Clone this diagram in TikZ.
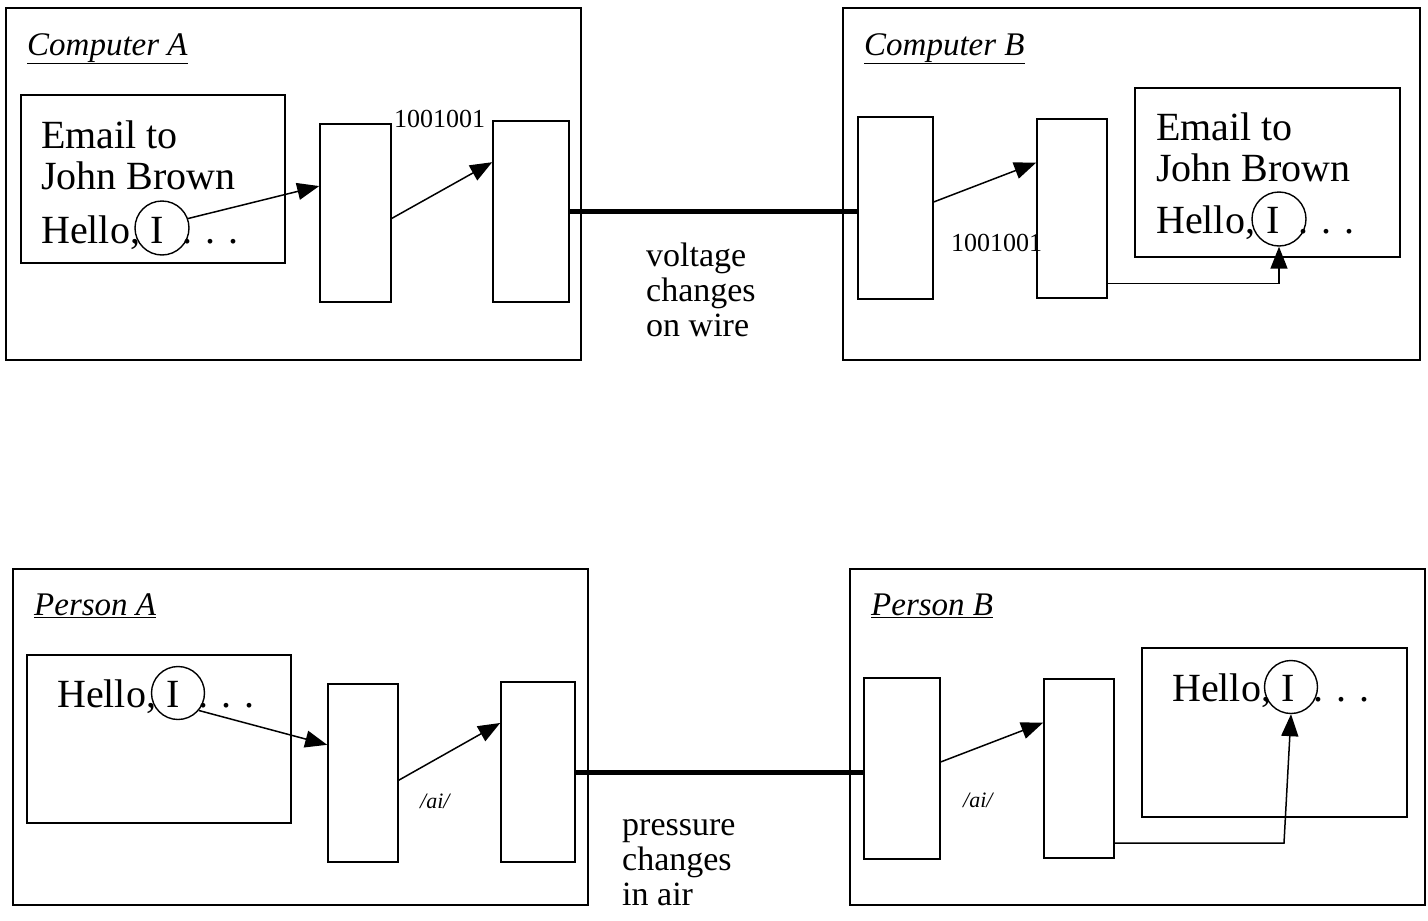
\documentclass[tikz,border=0pt]{standalone}
\usepackage{fontspec}
\setmainfont{Liberation Serif}
\usetikzlibrary{arrows.meta,calc}
\newcommand\myrect[5]{\node[rbox,minimum width={(#4)-(#2)},minimum height={(#5)-(#3)}] (#1) at ({((#2)+(#4))/2},{((#3)+(#5))/2}) {};}
\newcommand\fsz[2]{\fontsize{#1}{#2}\selectfont}
\begin{document}
\begin{tikzpicture}[x=1pt,y=-1pt,
  rbox/.style={draw,line width=1.6pt,inner sep=0pt},
  ring/.style={draw,circle,line width=1.4pt,inner sep=0pt,minimum size=54pt},
  arr/.style={line width=1.5pt,-{Triangle[length=22pt,width=17pt]}},
  wire/.style={line width=5pt},
  bigtxt/.style={font=\fsz{40}{44},inner sep=0pt,anchor=base west},
  ctrtxt/.style={font=\fsz{40}{44},inner sep=0pt,anchor=base},
  ttl/.style={font=\fsz{33}{37}\itshape,inner sep=0pt,anchor=base west},
  midtxt/.style={font=\fsz{34}{38},inner sep=0pt,anchor=base west},
  numtxt/.style={font=\fsz{26}{30},inner sep=0pt,anchor=base west},
  aitxt/.style={font=\fsz{22}{26}\itshape,inner sep=0pt,anchor=base west}]
\useasboundingbox (0,0) rectangle (1428,921);

% ---------- top: computers ----------
\myrect{compA}{6}{8}{581}{360}
\myrect{mailA}{21}{95}{285}{263}
\myrect{a1}{320}{124}{391}{302}
\myrect{a2}{493}{121}{569}{302}
\myrect{compB}{843}{8}{1420}{360}
\myrect{b1}{858}{117}{933}{299}
\myrect{b2}{1037}{119}{1107}{298}
\myrect{mailB}{1135}{88}{1400}{257}

\node[ttl] (tA) at (27,55) {\underline{Computer A}};
\node[ttl] (tB) at (864,55) {\underline{Computer B}};

\node[bigtxt] (eA1) at (41,148) {Email to};
\node[bigtxt] (eA2) at (41,189) {John Brown};
\node[bigtxt] (eA3) at (41,243) {Hello,};
\node[ctrtxt] (iA) at (157,243) {I};
\node[bigtxt] (dA) at (182,243) {. . .};
\node[ring] (ciA) at (162,228) {};

\node[bigtxt] (eB1) at (1156,140) {Email to};
\node[bigtxt] (eB2) at (1156,181) {John Brown};
\node[bigtxt] (eB3) at (1156,233) {Hello,};
\node[ctrtxt] (iB) at (1273,233) {I};
\node[bigtxt] (dB) at (1298,233) {. . .};
\node[ring] (ciB) at (1279,219) {};

\node[numtxt] (binA) at (394,127) {1001001};
\node[numtxt] (binB) at (951,251) {1001001};

\node[midtxt] (vA) at (646,266) {voltage};
\node[midtxt] (vB) at (646,301) {changes};
\node[midtxt] (vC) at (646,336) {on wire};

\draw[arr] (ciA.20) -- ($(a1.north west)!0.35!(a1.south west)$);
\draw[arr] ($(a1.north east)!0.53!(a1.south east)$) -- ($(a2.north west)!0.23!(a2.south west)$);
\draw[wire] (a2.east) -- (a2.east -| b1.west);
\draw[arr] ($(b1.north east)!0.467!(b1.south east)$) -- ($(b2.north west)!0.246!(b2.south west)$);
\draw[arr] ($(b2.north east)!0.915!(b2.south east)$) -| (ciB.south);

% ---------- bottom: persons ----------
\myrect{persA}{13}{569}{588}{905}
\myrect{helloA}{27}{655}{291}{823}
\myrect{p1}{328}{684}{398}{862}
\myrect{p2}{501}{682}{575}{862}
\myrect{persB}{850}{569}{1425}{905}
\myrect{q1}{864}{678}{940}{859}
\myrect{q2}{1044}{679}{1114}{858}
\myrect{helloB}{1142}{648}{1407}{817}

\node[ttl] (tPA) at (34,615) {\underline{Person A}};
\node[ttl] (tPB) at (871,615) {\underline{Person B}};

\node[bigtxt] (hA) at (57,707) {Hello,};
\node[ctrtxt] (iPA) at (173,707) {I};
\node[bigtxt] (dPA) at (198,707) {. . .};
\node[ring,minimum size=53pt] (ciPA) at (178,693) {};

\node[bigtxt] (hB) at (1172,701) {Hello,};
\node[ctrtxt] (iPB) at (1288,701) {I};
\node[bigtxt] (dPB) at (1313,701) {. . .};
\node[ring,minimum size=53pt] (ciPB) at (1291,687) {};

\node[aitxt] (aiA) at (420,808) {/ai/};
\node[aitxt] (aiB) at (963,807) {/ai/};

\node[midtxt] (pA) at (622,835) {pressure};
\node[midtxt] (pB) at (622,870) {changes};
\node[midtxt] (pC) at (622,905) {in air};

\coordinate (kinkB) at (1284,843);
\draw[arr] (ciPA.-40) -- ($(p1.north west)!0.343!(p1.south west)$);
\draw[arr] ($(p1.north east)!0.54!(p1.south east)$) -- ($(p2.north west)!0.23!(p2.south west)$);
\draw[wire] (p2.east) -- (p2.east -| q1.west);
\draw[arr] ($(q1.north east)!0.464!(q1.south east)$) -- ($(q2.north west)!0.246!(q2.south west)$);
\draw[arr] (kinkB -| q2.east) -- (kinkB) -- (ciPB.south);
\end{tikzpicture}
\end{document}
